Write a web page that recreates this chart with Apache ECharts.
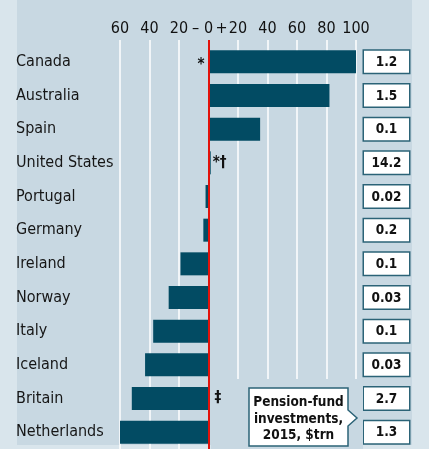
<!DOCTYPE html>
<html>
<head>
<meta charset="utf-8">
<script src="https://cdn.jsdelivr.net/npm/echarts@6/dist/echarts.min.js"></script>
<style>
  html, body { margin: 0; padding: 0; background: #d9e5ec; }
  #panel { position: absolute; left: 17px; top: 0; width: 395px; height: 445px; background: #c8d8e2; }
  #chart { position: absolute; left: 0; top: 0; width: 429px; height: 449px; }
</style>
</head>
<body>
<div id="panel"></div>
<div id="chart"></div>
<script>
// Countries, top to bottom
const countries = ['Canada', 'Australia', 'Spain', 'United States', 'Portugal', 'Germany',
  'Ireland', 'Norway', 'Italy', 'Iceland', 'Britain', 'Netherlands'];
// Bar values (percentage points, + / −)
const values = [100, 82, 35, 1.5, -2, -3.5, -19, -27, -37.5, -43, -52, -60];
// Pension-fund investments, 2015, $trn
const investments = ['1.2', '1.5', '0.1', '14.2', '0.02', '0.2', '0.1', '0.03', '0.1', '0.03', '2.7', '1.3'];
// Footnote markers beside the bars
const notes = ['*', '', '', '*†', '', '', '', '', '', '', '‡', ''];
// Axis range and tick step
const axisMin = -60, axisMax = 100, axisStep = 20;
const calloutLines = ['Pension-fund', 'investments,', '2015, $trn'];

const FONT = '"DejaVu Sans Condensed", "DejaVu Sans", sans-serif';
const BAR = '#024b63';
const PANEL = '#c8d8e2';
const RED = '#e3120b';
const BOX = '#2b6377';
const INK = '#111111';

const chart = echarts.init(document.getElementById('chart'), null, { renderer: 'canvas' });

const barData = values.map((v, i) => {
  const item = { value: v };
  if (notes[i]) {
    const big = v >= 10;
    item.label = {
      show: true,
      position: big ? 'left' : 'right',
      distance: big ? 4 : (v > 0 ? 2 : 6),
      formatter: notes[i],
      offset: big ? [0, 3] : [0, 0]
    };
  }
  return item;
});

// the zero tick carries the "−" and "+" sides of the scale
const tickLabel = v => (v === 0 ? '{m|–}{z|0}{p|+}' : String(Math.abs(v)));
const tok = w => ({ width: w, align: 'center', fontFamily: FONT, fontSize: 16, color: INK });

chart.setOption({
  animation: false,
  grid: { left: 120, top: 45, width: 236, height: 407, containLabel: false },
  xAxis: [{
    type: 'value',
    position: 'top',
    min: axisMin, max: axisMax, interval: axisStep,
    axisLine: { show: false },
    axisTick: { show: true, length: 5, lineStyle: { color: '#ffffff', width: 1.5 } },
    splitLine: { show: true, lineStyle: { color: '#ffffff', width: 1.5 } },
    axisLabel: {
      margin: 8,
      fontFamily: FONT, fontSize: 16, color: INK,
      formatter: tickLabel,
      rich: { m: tok(16), z: tok(10), p: tok(16) }
    }
  }, {
    type: 'value',
    position: 'top',
    min: axisMin, max: axisMax,
    axisLine: { show: false },
    axisLabel: { show: false },
    splitLine: { show: false },
    axisTick: { show: true, length: 5, customValues: [0], lineStyle: { color: RED, width: 2 } }
  }],
  yAxis: [{
    type: 'category',
    data: countries,
    inverse: true,
    axisLine: { show: false },
    axisTick: { show: false },
    axisLabel: {
      align: 'left', margin: 104,
      fontFamily: FONT, fontSize: 16, color: '#161616'
    }
  }, {
    type: 'category',
    position: 'right',
    data: investments,
    inverse: true,
    axisLine: { show: false },
    axisTick: { show: false },
    axisLabel: {
      margin: 8,
      align: 'left',
      formatter: v => '{v|' + v + '}',
      backgroundColor: '#ffffff',
      borderColor: BOX,
      borderWidth: 1.5,
      padding: [3, 0, 2, 0],
      rich: {
        v: { width: 45, align: 'center', fontFamily: FONT, fontSize: 13.5, fontWeight: 'bold', color: INK, lineHeight: 17 }
      }
    }
  }],
  graphic: {
    elements: [
      // plain panel under the callout, where the right-hand gridlines stop
      {
        type: 'rect', z: 2,
        shape: { x: 211, y: 379, width: 152, height: 70 },
        style: { fill: PANEL }
      },
      {
        type: 'polygon', z: 10,
        shape: { points: [[249, 388], [348, 388], [348, 410], [357, 418], [348, 426], [348, 446], [249, 446]] },
        style: { fill: '#ffffff', stroke: BOX, lineWidth: 1.5 }
      },
      {
        type: 'text', z: 11,
        x: 298.5, y: 419,
        style: {
          text: calloutLines.join('\n'),
          align: 'center', verticalAlign: 'middle',
          font: 'bold 13.5px ' + FONT, lineHeight: 16.5, fill: INK
        }
      }
    ]
  },
  series: [{
    type: 'bar',
    data: barData,
    barWidth: 23,
    z: 3,
    itemStyle: { color: BAR },
    label: { show: false, fontFamily: FONT, fontSize: 15, fontWeight: 'bold', color: INK },
    markLine: {
      silent: true,
      symbol: 'none',
      label: { show: false },
      lineStyle: { color: RED, width: 2, type: 'solid' },
      data: [{ xAxis: 0 }]
    }
  }]
});
</script>
</body>
</html>
